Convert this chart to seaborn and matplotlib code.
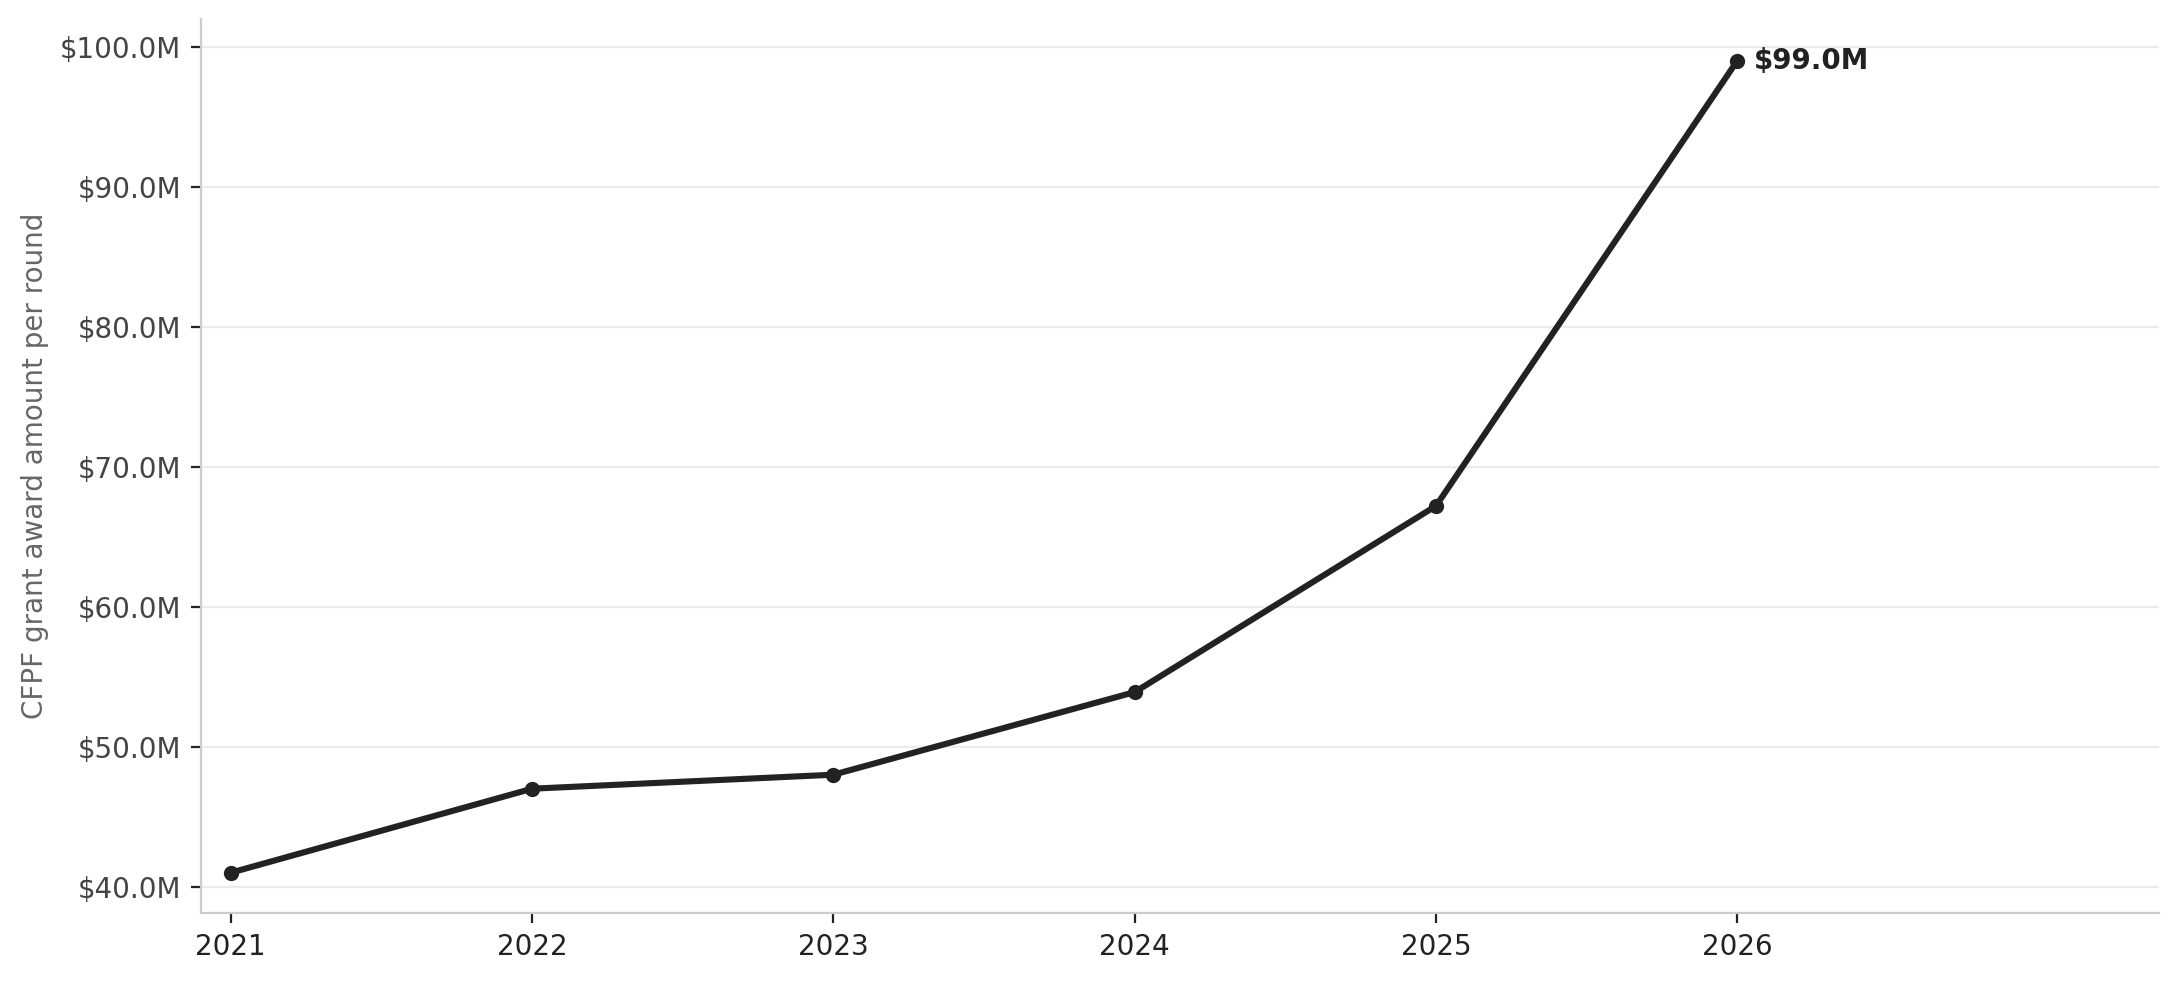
import matplotlib
matplotlib.use("Agg")
import matplotlib.pyplot as plt
import seaborn as sns
import pandas as pd
from matplotlib.ticker import FuncFormatter

years = [2021, 2022, 2023, 2024, 2025, 2026]
amounts = [41.0, 47.0, 48.0, 53.9, 67.2, 99.0]
y_label = "CFPF grant award amount per round"

sns.set_theme(style="whitegrid")
plt.rcParams['font.family'] = ['DejaVu Sans']

df = pd.DataFrame({"year": years, "amount": amounts})

fig, ax = plt.subplots(figsize=(10.905, 4.905), dpi=200)
sns.lineplot(data=df, x="year", y="amount", ax=ax, color="#222222",
             linewidth=2.2, marker="o", markersize=5.5, markeredgewidth=0)

ax.set_xlim(2020.9, 2027.4)
ax.set_ylim(38.1, 102)
ax.set_xticks(years)
ax.set_yticks([40, 50, 60, 70, 80, 90, 100])
ax.yaxis.set_major_formatter(FuncFormatter(lambda v, p: f"${v:.1f}M"))
ax.set_xlabel("")
ax.set_ylabel(y_label, color="#666666", fontsize=10)

ax.grid(axis="x", visible=False)
ax.grid(axis="y", color="#ebebeb", linewidth=0.8)
for s in ["top", "right"]:
    ax.spines[s].set_visible(False)
for s in ["left", "bottom"]:
    ax.spines[s].set_color("#cccccc")
    ax.spines[s].set_linewidth(0.8)

ax.tick_params(axis="both", labelsize=10, length=3.5, width=0.8, color="#222222",
               bottom=True, left=True)
ax.tick_params(axis="y", labelcolor="#444444")
ax.tick_params(axis="x", labelcolor="#222222")

ax.annotate(f"${amounts[-1]:.1f}M", xy=(years[-1], amounts[-1]),
            xytext=(6, 0), textcoords="offset points", ha="left", va="center",
            fontsize=10, fontweight="bold", color="#222222")

fig.subplots_adjust(left=0.092, right=0.990, top=0.981, bottom=0.069)
fig.savefig("out.png", dpi=200)
